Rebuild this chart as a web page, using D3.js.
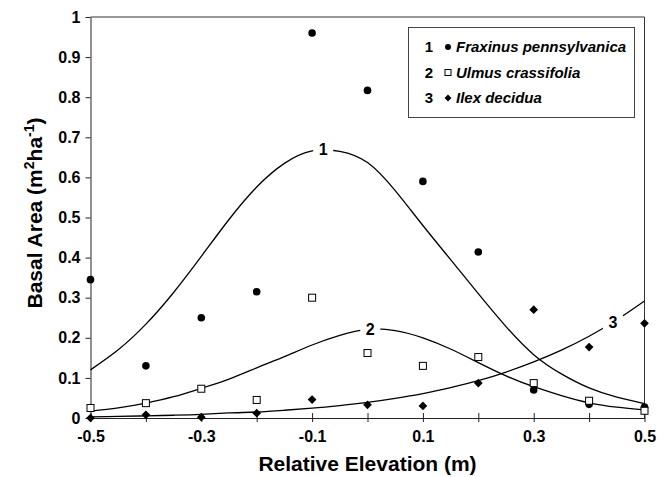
<!DOCTYPE html>
<html>
<head>
<meta charset="utf-8">
<script src="https://cdn.jsdelivr.net/npm/d3@7"></script>
<style>
  html, body { margin: 0; padding: 0; background: #fff; }
  svg { display: block; }
</style>
</head>
<body>
<script>
// Relative elevation (m) at each sampled plot position
const elevation = [-0.5, -0.4, -0.3, -0.2, -0.1, 0.0, 0.1, 0.2, 0.3, 0.4, 0.5];

// Observed basal area (m2 ha-1) per species
const fraxinus = [0.345, 0.13, 0.25, 0.315, 0.96, 0.817, 0.59, 0.414, 0.07, 0.034, 0.027];
const ulmus    = [0.025, 0.037, 0.073, 0.045, 0.30, 0.162, 0.13, 0.152, 0.087, 0.043, 0.018];
const ilex     = [0.0, 0.008, 0.002, 0.012, 0.046, 0.033, 0.03, 0.087, 0.27, 0.177, 0.236];

// Fitted response curves, sampled along the elevation gradient
const curveElevation = [-0.5, -0.45, -0.4, -0.35, -0.3, -0.25, -0.2, -0.15, -0.1, -0.05, 0.0,
                        0.05, 0.1, 0.15, 0.2, 0.25, 0.3, 0.35, 0.4, 0.45, 0.5];
const fitFraxinus = [0.12, 0.17, 0.234, 0.313, 0.403, 0.495, 0.576, 0.635, 0.666, 0.665, 0.637,
                     0.567, 0.48, 0.395, 0.31, 0.228, 0.158, 0.11, 0.075, 0.052, 0.036];
const fitUlmus    = [0.017, 0.025, 0.037, 0.053, 0.074, 0.097, 0.125, 0.153, 0.182, 0.206, 0.221,
                     0.218, 0.2, 0.172, 0.138, 0.105, 0.078, 0.056, 0.038, 0.027, 0.02];
const fitIlex     = [0.003, 0.004, 0.0053, 0.0069, 0.009, 0.0126, 0.015, 0.0193, 0.0245, 0.0311, 0.039,
                     0.049, 0.061, 0.0758, 0.093, 0.1146, 0.14, 0.1694, 0.204, 0.245, 0.292];

// Curve number labels placed on each fitted line
const curveLabels = ["1", "2", "3"];
const curveLabelX = [-0.08, 0.005, 0.443];
const curveLabelY = [0.67, 0.222, 0.238];

// Legend
const legendNumbers = ["1", "2", "3"];
const speciesNames = ["Fraxinus pennsylvanica", "Ulmus crassifolia", "Ilex decidua"];

// Axis ticks
const xTicks = [-0.5, -0.4, -0.3, -0.2, -0.1, 0.0, 0.1, 0.2, 0.3, 0.4, 0.5];
const xTickLabels = ["-0.5", "", "-0.3", "", "-0.1", "", "0.1", "", "0.3", "", "0.5"];
const yTicks = [0, 0.1, 0.2, 0.3, 0.4, 0.5, 0.6, 0.7, 0.8, 0.9, 1];
const yTickLabels = ["0", "0.1", "0.2", "0.3", "0.4", "0.5", "0.6", "0.7", "0.8", "0.9", "1"];

const W = 670, H = 477;
const FONT = "'Liberation Sans', Arial, Helvetica, sans-serif";

const svg = d3.select("body").append("svg")
  .attr("width", W).attr("height", H)
  .attr("font-family", FONT);

const x = d3.scaleLinear().domain([-0.5, 0.5]).range([90.5, 644.5]);
const y = d3.scaleLinear().domain([0, 1]).range([418, 17]);

// Plot frame (top and right edges)
svg.append("path")
  .attr("d", `M${x(-0.5)},${y(1)}H${x(0.5)}V${y(0)}`)
  .attr("fill", "none").attr("stroke", "#333").attr("stroke-width", 1);

// Y axis
const yAxis = svg.append("g")
  .attr("transform", `translate(${x(-0.5)},0)`)
  .call(d3.axisLeft(y).tickValues(yTicks)
    .tickFormat((d, i) => yTickLabels[i])
    .tickSizeInner(5).tickSizeOuter(0).tickPadding(5));
yAxis.selectAll("path, line").attr("stroke", "#222");
yAxis.selectAll("text")
  .attr("font-family", FONT).attr("font-size", 16).attr("font-weight", "bold").attr("fill", "#000");

// X axis, ticks crossing the baseline
const xAxis = svg.append("g")
  .attr("transform", `translate(0,${y(0)})`)
  .call(d3.axisBottom(x).tickValues(xTicks)
    .tickFormat((d, i) => xTickLabels[i])
    .tickSizeInner(4).tickSizeOuter(0).tickPadding(9));
xAxis.selectAll("path, line").attr("stroke", "#222");
xAxis.selectAll(".tick line").attr("y1", -5).attr("y2", 4);
xAxis.selectAll("text")
  .attr("font-family", FONT).attr("font-size", 16).attr("font-weight", "bold").attr("fill", "#000");

// Axis titles
svg.append("text")
  .attr("x", (x(-0.5) + x(0.5)) / 2).attr("y", 471)
  .attr("text-anchor", "middle")
  .attr("font-size", 21).attr("font-weight", "bold")
  .text("Relative Elevation (m)");

const yTitle = svg.append("text")
  .attr("transform", `translate(42,213) rotate(-90)`)
  .attr("text-anchor", "middle")
  .attr("font-size", 21).attr("font-weight", "bold");
yTitle.append("tspan").text("Basal Area (m");
yTitle.append("tspan").attr("font-size", 14).attr("dy", -8).text("2");
yTitle.append("tspan").attr("dy", 8).text("ha");
yTitle.append("tspan").attr("font-size", 14).attr("dy", -8).text("-1");
yTitle.append("tspan").attr("dy", 8).text(")");

// Fitted curves
const line = d3.line()
  .x(d => x(d[0])).y(d => y(d[1]))
  .curve(d3.curveNatural);
[fitFraxinus, fitUlmus, fitIlex].forEach(fit => {
  svg.append("path")
    .datum(curveElevation.map((e, i) => [e, fit[i]]))
    .attr("d", line)
    .attr("fill", "none").attr("stroke", "#000").attr("stroke-width", 1.3);
});

// Curve numbers sit in a small break of their line
const labelG = svg.append("g");
curveLabels.forEach((lab, i) => {
  const cx = x(curveLabelX[i]), cy = y(curveLabelY[i]);
  labelG.append("rect")
    .attr("x", cx - 10).attr("y", cy - 8).attr("width", 20).attr("height", 16)
    .attr("fill", "#fff");
  labelG.append("text")
    .attr("x", cx).attr("y", cy).attr("dy", "0.36em")
    .attr("text-anchor", "middle")
    .attr("font-size", 16).attr("font-weight", "bold")
    .text(lab);
});

// Observed points
const diamond = d3.symbol().type(d3.symbolSquare);
svg.append("g").selectAll("circle")
  .data(elevation.map((e, i) => [e, fraxinus[i]]))
  .join("circle")
  .attr("cx", d => x(d[0])).attr("cy", d => y(d[1]))
  .attr("r", 3.8).attr("fill", "#000");

svg.append("g").selectAll("rect")
  .data(elevation.map((e, i) => [e, ulmus[i]]))
  .join("rect")
  .attr("x", d => x(d[0]) - 3.5).attr("y", d => y(d[1]) - 3.5)
  .attr("width", 7).attr("height", 7)
  .attr("fill", "#fff").attr("stroke", "#000").attr("stroke-width", 1);

svg.append("g").selectAll("path")
  .data(elevation.map((e, i) => [e, ilex[i]]))
  .join("path")
  .attr("d", diamond.size(38))
  .attr("transform", d => `translate(${x(d[0])},${y(d[1])}) rotate(45)`)
  .attr("fill", "#000");

// Legend
const legend = svg.append("g");
legend.append("rect")
  .attr("x", 408.5).attr("y", 27.5).attr("width", 226).attr("height", 90)
  .attr("fill", "#fff").attr("stroke", "#444").attr("stroke-width", 1);
const rowBase = [52, 77.5, 103];
speciesNames.forEach((name, i) => {
  const b = rowBase[i];
  legend.append("text")
    .attr("x", 429).attr("y", b).attr("text-anchor", "middle")
    .attr("font-size", 15).attr("font-weight", "bold")
    .text(legendNumbers[i]);
  const mx = 448, my = b - 5;
  if (i === 0) {
    legend.append("circle").attr("cx", mx).attr("cy", my).attr("r", 3).attr("fill", "#000");
  } else if (i === 1) {
    legend.append("rect").attr("x", mx - 3).attr("y", my - 3).attr("width", 6).attr("height", 6)
      .attr("fill", "#fff").attr("stroke", "#000").attr("stroke-width", 1);
  } else {
    legend.append("path").attr("d", d3.symbol().type(d3.symbolSquare).size(24)())
      .attr("transform", `translate(${mx},${my}) rotate(45)`).attr("fill", "#000");
  }
  legend.append("text")
    .attr("x", 456).attr("y", b)
    .attr("font-size", 15).attr("font-weight", "bold").attr("font-style", "italic")
    .text(name);
});
</script>
</body>
</html>
